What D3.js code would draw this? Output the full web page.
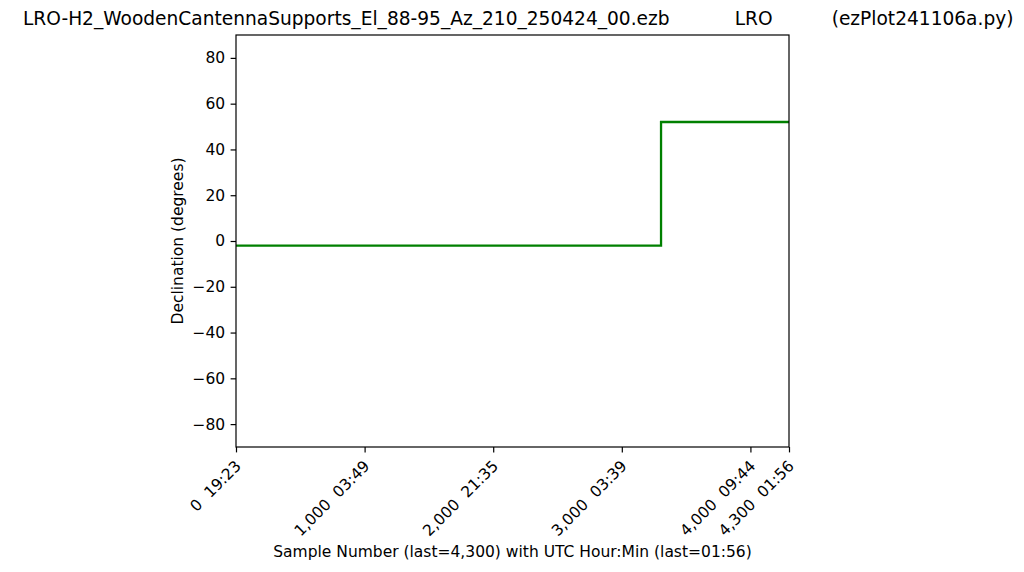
<!DOCTYPE html>
<html><head><meta charset="utf-8">
<script src="https://cdn.jsdelivr.net/npm/d3@7"></script>
<style>body{margin:0;background:#fff}svg{display:block}text{font-family:"DejaVu Sans",sans-serif;fill:#000}</style>
</head><body><svg id="c" width="1024" height="572"></svg>
<script>
const titleText = "LRO-H2_WoodenCantennaSupports_El_88-95_Az_210_250424_00.ezb           LRO          (ezPlot241106a.py)";
const sampleNums = [0, 3305, 3305, 4300];
const decValues = [-2, -2, 52, 52];
const xTickValues = [0, 1000, 2000, 3000, 4000, 4300];
const xTickLabels = ["0  19:23", "1,000  03:49", "2,000  21:35", "3,000  03:39", "4,000  09:44", "4,300  01:56"];
const yTickValues = [-80, -60, -40, -20, 0, 20, 40, 60, 80];
const xLabel = "Sample Number (last=4,300) with UTC Hour:Min (last=01:56)";
const yLabel = "Declination (degrees)";

const FS = 15.5, TFS = 18.6, TK = 5.4;
const svg = d3.select("#c");
const L = 236, R = 789, T = 35, B = 447;
const x = d3.scaleLinear().domain([0, 4300]).range([L, R]);
const y = d3.scaleLinear().domain([-90, 90]).range([B, T]);

svg.append("text").attr("x", 23).attr("y", 25).attr("font-size", TFS)
  .style("white-space", "pre").text(titleText);

const line = d3.line().x((d, i) => x(sampleNums[i])).y(d => y(d));
svg.append("path").datum(decValues).attr("d", line)
  .attr("fill", "none").attr("stroke", "#008000").attr("stroke-width", 2.3);

const yAxis = d3.axisLeft(y).tickValues(yTickValues).tickSize(TK).tickPadding(5.4)
  .tickFormat(d => d < 0 ? "\u2212" + Math.abs(d) : String(d));
const gy = svg.append("g").attr("transform", `translate(${L},0)`).call(yAxis);
gy.select(".domain").remove();
gy.selectAll("text").attr("font-size", FS).attr("font-family", "DejaVu Sans").attr("fill", "#000");
gy.selectAll("line").attr("stroke", "#000").attr("stroke-width", 1.2);

const xAxis = d3.axisBottom(x).tickValues(xTickValues).tickSize(TK).tickFormat((d, i) => xTickLabels[i]);
const gx = svg.append("g").attr("transform", `translate(0,${B})`).call(xAxis);
gx.select(".domain").remove();
gx.selectAll("line").attr("stroke", "#000").attr("stroke-width", 1.2);
gx.selectAll("text").attr("font-size", FS).attr("font-family", "DejaVu Sans").attr("fill", "#000")
  .style("white-space", "pre")
  .attr("text-anchor", "end").attr("dy", null).attr("y", 0)
  .attr("transform", "translate(5.5,20) rotate(-45)");

svg.append("rect").attr("x", L).attr("y", T).attr("width", R - L).attr("height", B - T)
  .attr("fill", "none").attr("stroke", "#000").attr("stroke-width", 1.2);

svg.append("text").attr("x", (L + R) / 2).attr("y", 557).attr("text-anchor", "middle")
  .attr("font-size", FS).text(xLabel);
svg.append("text").attr("transform", `translate(183,${(T + B) / 2}) rotate(-90)`)
  .attr("text-anchor", "middle").attr("font-size", FS).text(yLabel);
</script></body></html>
